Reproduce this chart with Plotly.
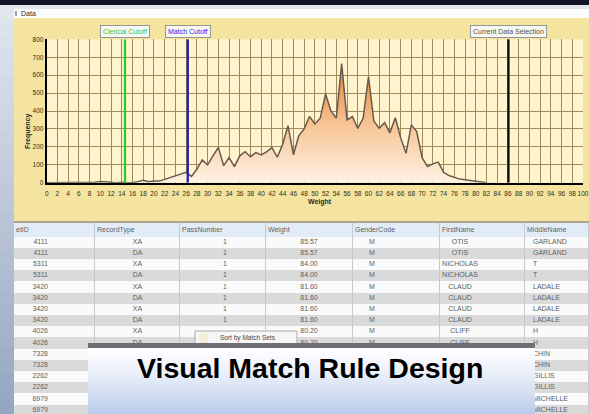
import plotly.graph_objects as go

W, H = 589, 414

# ---------------- data ----------------
weights = list(range(0, 83))
frequency = [0, 0, 0, 0, 0, 0, 4, 0, 0, 2,
             7, 7, 3, 0, 3, 0, 0, 6, 14, 6,
             10, 9, 18, 30, 40, 48, 58, 35, 75, 127,
             100, 150, 197, 95, 140, 90, 150, 173, 145, 168,
             155, 172, 196, 142, 215, 318, 155, 262, 300, 369,
             328, 360, 495, 400, 360, 665, 350, 369, 303, 359,
             591, 345, 303, 335, 278, 362, 250, 164, 322, 285,
             140, 90, 105, 115, 58, 40, 30, 20, 16, 12,
             6, 3, 0]

x_ticks = list(range(0, 101, 2))
y_ticks = list(range(0, 801, 100))

cutoff_names = ["Clerical Cutoff", "Match Cutoff", "Current Data Selection"]
cutoff_values = [14.6, 26.3, 86.1]

# table (cells hidden behind the banner / popup in the picture are left empty)
table_headers = ["etID", "RecordType", "PassNumber", "Weight", "GenderCode", "FirstName", "MiddleName"]
set_ids = ["4111", "4111", "5311", "5311", "3420", "3420", "3420", "3420",
           "4026", "4026", "7328", "7328", "2262", "2262", "6979", "6979"]
record_types = ["XA", "DA", "XA", "DA", "XA", "DA", "XA", "DA", "XA", "DA",
                "", "", "", "", "", ""]
pass_numbers = ["1", "1", "1", "1", "1", "1", "1", "1", "", "",
                "", "", "", "", "", ""]
weight_col = ["85.57", "85.57", "84.00", "84.00", "81.60", "81.60", "81.60", "81.60",
              "80.20", "80.20", "", "", "", "", "", ""]
gender_codes = ["M", "M", "M", "M", "M", "M", "M", "M", "M", "M",
                "", "", "", "", "", ""]
first_names = ["OTIS", "OTIS", "NICHOLAS", "NICHOLAS", "CLAUD", "CLAUD", "CLAUD", "CLAUD",
               "CLIFF", "CLIFF", "", "", "", "", "", ""]
middle_names = ["GARLAND", "GARLAND", "T", "T", "LADALE", "LADALE", "LADALE", "LADALE",
                "H", "H", "CHIN", "CHIN", "GILLIS", "GILLIS", "MICHELLE", "MICHELLE"]
table_columns = [set_ids, record_types, pass_numbers, weight_col,
                 gender_codes, first_names, middle_names]

banner_text = "Visual Match Rule Design"
popup_text = "Sort by Match Sets"
panel_title = "Data"

# ---------------- layout helpers (styling) ----------------
FONT = "Liberation Sans, Arial, sans-serif"
TABLE_TOP = 223
col_edges = [0, 81, 166, 252, 339, 426, 511, 575]
col_text_x = [34, 123.5, 211, 295, 358, 446, 519]
col_text_pos = ["middle left", "middle center", "middle center", "middle center",
                "middle center", "middle center", "middle right"]
header_h, row_h = 13.5, 11.2


def px(x):
    return x / W


def py(y):
    return (H - y) / H


def lerp(c0, c1, t):
    return "rgb(%d,%d,%d)" % tuple(round(a + (b - a) * t) for a, b in zip(c0, c1))


shapes = []


def rect(x0, y0, x1, y1, fill, layer="below", line=None):
    shapes.append(dict(type="rect", xref="paper", yref="paper",
                       x0=px(x0), x1=px(x1), y0=py(y1), y1=py(y0),
                       fillcolor=fill, layer=layer,
                       line=dict(width=0) if line is None else line))


# background frame
rect(0, 0, W, 5, "rgb(18,22,38)")
rect(0, 5, W, 9, "rgb(226,230,238)")
n = 30
for i in range(n):
    y0 = 9 + (H - 9) * i / n
    y1 = 9 + (H - 9) * (i + 1) / n + 0.5
    rect(0, y0, 14, y1, lerp((224, 229, 238), (150, 166, 193), i / (n - 1)))
rect(14, 9, W, 18, "rgb(252,252,252)")
rect(15, 11, 17, 16, "rgb(150,160,175)")
rect(14, 18, W, 221, "rgb(244,228,160)")
rect(14, 221, W, 223, "rgb(170,165,140)")
rect(14, 223, W, H, "rgb(198,200,205)")  # table grid colour seen through gaps
# plot background
shapes.append(dict(type="rect", xref="x", yref="y", x0=0, x1=100, y0=0, y1=800,
                   fillcolor="rgb(255,244,206)", line=dict(width=0), layer="below"))

# popup menu
rect(195, 331, 297, 345, "rgb(246,246,246)", layer="above",
     line=dict(color="rgb(170,170,170)", width=1))
rect(199, 334, 208, 343, "rgb(244,238,214)", layer="above")

# banner
rect(88, 343, 535, 348, "rgb(110,110,115)", layer="above")
nb = 22
for i in range(nb):
    y0 = 348 + (H - 348) * i / nb
    y1 = 348 + (H - 348) * (i + 1) / nb + 0.5
    rect(88, y0, 535, y1, lerp((253, 253, 255), (186, 204, 234), (i / (nb - 1)) ** 1.3),
         layer="above")

# ---------------- traces ----------------
fig = go.Figure()

fig.add_trace(go.Scatter(
    x=weights, y=frequency, mode="lines",
    line=dict(color="rgb(105,88,75)", width=1.5),
    fill="tozeroy",
    fillgradient=dict(type="vertical", start=0, stop=700,
                      colorscale=[[0, "rgb(255,242,228)"],
                                  [0.45, "rgb(247,198,150)"],
                                  [1, "rgb(222,122,45)"]]),
    hoverinfo="skip", showlegend=False))

line_colors = ["rgb(40,205,40)", "rgb(30,30,175)", "rgb(10,10,10)"]
label_colors = ["rgb(60,190,60)", "rgb(40,40,225)", "rgb(80,80,80)"]
for name, v, lc in zip(cutoff_names, cutoff_values, line_colors):
    fig.add_trace(go.Scatter(x=[v, v], y=[y_ticks[0], y_ticks[-1]], mode="lines",
                             line=dict(color=lc, width=2.3), showlegend=False,
                             hoverinfo="skip"))

# table grid: header + alternating rows, drawn as a heatmap on its own axes
rows = len(set_ids)
row_edges = [0, header_h] + [header_h + row_h * (i + 1) for i in range(rows)]
z = [[2] * len(table_headers)] + [[i % 2] * len(table_headers) for i in range(rows)]
fig.add_trace(go.Heatmap(
    x=col_edges, y=row_edges, z=z, zmin=0, zmax=2, xgap=1, ygap=0,
    colorscale=[[0, "rgb(250,250,250)"], [0.333, "rgb(250,250,250)"],
                [0.333, "rgb(218,218,218)"], [0.667, "rgb(218,218,218)"],
                [0.667, "rgb(226,236,247)"], [1, "rgb(226,236,247)"]],
    showscale=False, hoverinfo="skip", xaxis="x2", yaxis="y2"))

row_centers = [header_h + row_h * (i + 0.5) for i in range(rows)]
for col, tx, tp in zip(table_columns, col_text_x, col_text_pos):
    fig.add_trace(go.Scatter(
        x=[tx] * rows, y=row_centers, text=col, mode="text", textposition=tp,
        textfont=dict(family=FONT, size=7, color="rgb(95,95,95)"),
        hoverinfo="skip", showlegend=False, xaxis="x2", yaxis="y2"))
fig.add_trace(go.Scatter(
    x=[e + 2 for e in col_edges[:-1]], y=[header_h / 2] * len(table_headers),
    text=table_headers, mode="text", textposition="middle right",
    textfont=dict(family=FONT, size=7, color="rgb(95,95,100)"),
    hoverinfo="skip", showlegend=False, xaxis="x2", yaxis="y2"))

# ---------------- annotations ----------------
annotations = []
for name, v, tc in zip(cutoff_names, cutoff_values, label_colors):
    annotations.append(dict(x=v, xref="x", y=py(31), yref="paper", text=name,
                            showarrow=False, xanchor="center", yanchor="middle",
                            font=dict(family=FONT, size=7, color=tc),
                            bgcolor="rgb(248,248,242)", bordercolor="rgb(150,150,150)",
                            borderwidth=1, borderpad=2))
annotations.append(dict(x=px(320), y=py(202.5), xref="paper", yref="paper",
                        text="<b>Weight</b>", showarrow=False,
                        font=dict(family=FONT, size=7, color="rgb(40,40,40)")))
annotations.append(dict(x=px(22), y=py(111), xref="paper", yref="paper",
                        text="<b>Frequency</b>", showarrow=False, textangle=-90,
                        font=dict(family=FONT, size=7, color="rgb(40,40,40)")))
annotations.append(dict(x=px(19), y=py(13.5), xref="paper", yref="paper",
                        xanchor="left", yanchor="middle",
                        text=panel_title, showarrow=False,
                        font=dict(family=FONT, size=7, color="rgb(40,40,40)")))
annotations.append(dict(x=px(218), y=py(338), xref="paper", yref="paper",
                        xanchor="left", yanchor="middle",
                        text=popup_text, showarrow=False,
                        font=dict(family=FONT, size=6.5, color="rgb(70,70,70)")))
annotations.append(dict(x=px(310), y=py(386), xref="paper", yref="paper",
                        text="<b>" + banner_text + "</b>", showarrow=False,
                        font=dict(family=FONT, size=28.5, color="rgb(0,0,0)")))

grid_c = "rgb(160,140,90)"
fig.update_layout(
    width=W, height=H, margin=dict(l=0, r=0, t=0, b=0),
    paper_bgcolor="rgb(226,230,238)", plot_bgcolor="rgba(0,0,0,0)",
    shapes=shapes, annotations=annotations, showlegend=False,
    xaxis=dict(domain=[px(46.7), px(583)], range=[0, 100], tickvals=x_ticks,
               tickangle=0, showgrid=True, gridcolor=grid_c, gridwidth=1,
               zeroline=False, showline=True, linecolor="black", linewidth=2,
               ticks="", automargin=False, fixedrange=True, ticklabeloverflow="allow",
               ticklabelstandoff=3,
               tickfont=dict(family=FONT, size=6.5, color="rgb(50,45,25)")),
    yaxis=dict(domain=[py(182.7), py(39.3)], range=[0, 800], tickvals=y_ticks,
               showgrid=True, gridcolor=grid_c, gridwidth=1,
               zeroline=False, showline=True, linecolor="black", linewidth=2,
               ticks="", automargin=False, fixedrange=True,
               tickfont=dict(family=FONT, size=6.5, color="rgb(50,45,25)")),
    xaxis2=dict(domain=[px(14), 1], range=[0, col_edges[-1]], visible=False,
                fixedrange=True, anchor="y2"),
    yaxis2=dict(domain=[0, py(TABLE_TOP)], range=[H - TABLE_TOP, 0], visible=False,
                fixedrange=True, anchor="x2"),
)

fig.write_html("out.html", config={"displayModeBar": False},
               post_script="document.body.style.margin='0';")
